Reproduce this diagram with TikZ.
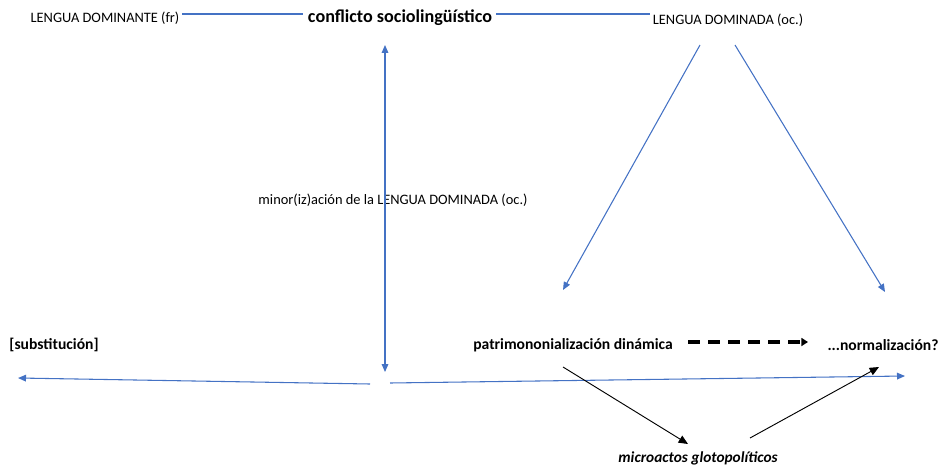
\documentclass[tikz,border=0pt]{standalone}
\usepackage{fontspec}
\setmainfont{Carlito}
\usetikzlibrary{arrows.meta}
\definecolor{bleu}{RGB}{68,114,196}

\begin{document}
\begin{tikzpicture}[x=0.75pt,y=-0.75pt]
\tikzset{etiq/.style={inner sep=0pt, font=\fontsize{10.8}{13}\selectfont},
  gras/.style={inner sep=0pt, font=\fontsize{11.7}{14}\selectfont\bfseries},
  trait/.style={draw=bleu, line width=0.8pt},
  fleche/.style={trait, -{Triangle[length=6pt,width=5pt]}},
  noire/.style={draw=black, line width=0.7pt, -{Triangle[length=7pt,width=6pt]}}}
\useasboundingbox (0,0) rectangle (941,467);
\node[etiq] (dominante) at (105,18) {LENGUA DOMINANTE (fr)};
\node[gras, font=\fontsize{13.6}{16}\selectfont\bfseries] (conflicto) at (400,18) {conflicto sociolingüístico};
\node[etiq] (dominada) at (728,20) {LENGUA DOMINADA (oc.)};
\node[etiq] (minor) at (393,200) {minor(iz)ación de la LENGUA DOMINADA (oc.)};
\node[gras] (substitucion) at (54,345) {[substitución]};
\node[gras] (patrimonio) at (573,345) {patrimononialización dinámica};
\node[gras] (normalizacion) at (883,345) {...normalización?};
\node[gras, font=\fontsize{11.5}{14}\selectfont\bfseries\itshape] (microactos) at (698,458) {microactos glotopolíticos};
\coordinate (C1) at (182,14);
\coordinate (C2) at (303,14);
\coordinate (C3) at (496,14);
\coordinate (C4) at (650,14);
\coordinate (haut) at (385,45);
\coordinate (bas) at (385,372);
\coordinate (D1) at (700,45);
\coordinate (D2) at (563,290);
\coordinate (D3) at (735,45);
\coordinate (D4) at (885,292);
\coordinate (G1) at (370,384);
\coordinate (G2) at (18,378);
\coordinate (H1) at (390,383);
\coordinate (H2) at (905,376);
\coordinate (P1) at (563,367);
\coordinate (P2) at (688,444);
\coordinate (M1) at (750,438);
\coordinate (M2) at (879,367);
\coordinate (T1) at (688,342);
\coordinate (T2) at (808,342);
\draw[trait] (C1) -- (C2);
\draw[trait] (C3) -- (C4);
\draw[trait, {Triangle[length=6pt,width=5pt]}-{Triangle[length=6pt,width=5pt]}] (haut) -- (bas);
\draw[fleche] (D1) -- (D2);
\draw[fleche] (D3) -- (D4);
\draw[fleche] (G1) -- (G2);
\draw[fleche] (H1) -- (H2);
\draw[noire] (P1) -- (P2);
\draw[noire] (M1) -- (M2);
\draw[line width=2.6pt, dash pattern=on 9pt off 6pt, -{Triangle[length=5pt,width=6pt]}] (T1) -- (T2);
\end{tikzpicture}
\end{document}
